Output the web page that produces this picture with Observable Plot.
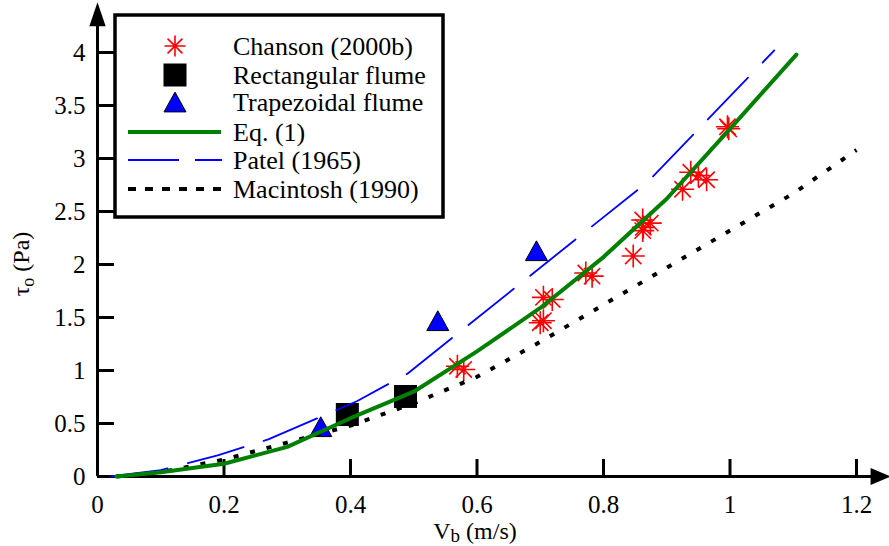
<!DOCTYPE html>
<html>
<head>
<meta charset="utf-8">
<script src="https://cdn.jsdelivr.net/npm/d3@7"></script>
<script src="https://cdn.jsdelivr.net/npm/@observablehq/plot@0.6"></script>
<style>
  html, body { margin: 0; padding: 0; background: #fff; }
  #chart { width: 889px; height: 546px; }
</style>
</head>
<body>
<div id="chart"></div>
<script>
// ---- data ----
const chansonV   = [0.569, 0.579, 0.700, 0.705, 0.705, 0.719, 0.772, 0.782, 0.847, 0.862, 0.874, 0.862, 0.863, 0.925, 0.938, 0.950, 0.963, 0.996, 0.998];
const chansonTau = [1.04, 1.01, 1.45, 1.47, 1.69, 1.67, 1.92, 1.89, 2.08, 2.42, 2.39, 2.32, 2.35, 2.71, 2.87, 2.84, 2.80, 3.30, 3.28];

const rectV   = [0.395, 0.487];
const rectTau = [0.585, 0.755];

const trapV   = [0.353, 0.538, 0.694];
const trapTau = [0.47, 1.47, 2.13];

const eqV   = [0.03, 0.1, 0.2, 0.3, 0.4, 0.5, 0.6, 0.7, 0.8, 0.9, 1.0, 1.105];
const eqTau = [0, 0.04, 0.12, 0.28, 0.55, 0.80, 1.18, 1.59, 2.07, 2.62, 3.28, 3.98];

const patelV   = [0.02, 0.1, 0.19, 0.27, 0.41, 0.49, 0.87, 1.07];
const patelTau = [0, 0.06, 0.20, 0.35, 0.71, 0.97, 2.78, 4.02];

const macV   = [0.03, 0.1, 0.2, 0.3, 0.4, 0.5, 0.6, 0.7, 0.8, 0.9, 1.0, 1.1, 1.2];
const macTau = [0, 0.04, 0.16, 0.32, 0.48, 0.69, 0.94, 1.27, 1.62, 1.97, 2.32, 2.67, 3.08];

const xTicks = [0, 0.2, 0.4, 0.6, 0.8, 1, 1.2];
const xTickLabels = ["0", "0.2", "0.4", "0.6", "0.8", "1", "1.2"];
const yTicks = [0, 0.5, 1, 1.5, 2, 2.5, 3, 3.5, 4];
const yTickLabels = ["0", "0.5", "1", "1.5", "2", "2.5", "3", "3.5", "4"];

const legendLabels = ["Chanson (2000b)", "Rectangular flume", "Trapezoidal flume", "Eq. (1)", "Patel (1965)", "Macintosh (1990)"];

// axis arrow extents (data units beyond the domain)
const X_AXIS_END = 1.228, X_ARROW = 1.238;
const Y_AXIS_END = 4.25,  Y_ARROW = 4.36;

// ---- helpers ----
const zip = (a, b) => a.map((v, i) => ({v, t: b[i]}));
const FONT = "'Liberation Serif', 'Times New Roman', Times, serif";

const starSym = {draw(ctx, size) {
  const r = Math.sqrt(size / Math.PI);
  for (let k = 0; k < 4; k++) {
    const a = k * Math.PI / 4, c = Math.cos(a) * r, s = Math.sin(a) * r;
    ctx.moveTo(c, s); ctx.lineTo(-c, -s);
  }
}};
const squareSym = {draw(ctx, size) {
  const r = Math.sqrt(size / Math.PI);
  ctx.moveTo(-r, -r); ctx.lineTo(r, -r); ctx.lineTo(r, r); ctx.lineTo(-r, r); ctx.closePath();
}};
const triSym = {draw(ctx, size) {
  const r = Math.sqrt(size / Math.PI);
  ctx.moveTo(0, -0.9 * r); ctx.lineTo(r, 0.9 * r); ctx.lineTo(-r, 0.9 * r); ctx.closePath();
}};
const arrowRight = {draw(ctx, size) {
  const r = Math.sqrt(size / Math.PI);
  ctx.moveTo(r, 0); ctx.lineTo(-r, -0.85 * r); ctx.lineTo(-r, 0.85 * r); ctx.closePath();
}};
const arrowUp = {draw(ctx, size) {
  const r = Math.sqrt(size / Math.PI);
  ctx.moveTo(0, -r); ctx.lineTo(0.68 * r, r); ctx.lineTo(-0.68 * r, r); ctx.closePath();
}};

const W = 889, H = 546, ML = 97, MR = 33, MT = 52, MB = 70;
const innerW = W - ML - MR, innerH = H - MT - MB;

const plot = Plot.plot({
  width: W, height: H,
  marginLeft: ML, marginRight: MR, marginTop: MT, marginBottom: MB,
  x: {domain: [0, 1.2]},
  y: {domain: [0, 4]},
  style: {fontFamily: FONT, fontSize: "25px", color: "#000", background: "#fff", overflow: "visible"},
  marks: [
    Plot.axisX({ticks: xTicks, tickFormat: (d, i) => xTickLabels[i], tickSize: 0, tickPadding: 19, label: null, fontSize: 25}),
    Plot.axisY({ticks: yTicks, tickFormat: (d, i) => yTickLabels[i], tickSize: 0, tickPadding: 12, label: null, fontSize: 25}),
    // inward tick marks
    Plot.ruleX(xTicks, {x: d => d, insetTop: innerH - 17, stroke: "#000", strokeWidth: 3}),
    Plot.ruleY(yTicks, {y: d => d, insetRight: innerW - 17, stroke: "#000", strokeWidth: 3}),
    // axis lines with arrows
    Plot.ruleY([0], {x1: 0, x2: X_AXIS_END, stroke: "#000", strokeWidth: 3}),
    Plot.ruleX([0], {y1: 0, y2: Y_AXIS_END, stroke: "#000", strokeWidth: 3}),
    Plot.dot([[X_ARROW, 0]], {x: d => d[0], y: d => d[1], symbol: arrowRight, r: 10, fill: "#000", stroke: "none"}),
    Plot.dot([[0, Y_ARROW]], {x: d => d[0], y: d => d[1], symbol: arrowUp, r: 12, fill: "#000", stroke: "none"}),
    // markers
    Plot.dot(zip(rectV, rectTau), {x: "v", y: "t", symbol: squareSym, r: 11.5, fill: "#000", stroke: "none"}),
    Plot.dot(zip(trapV, trapTau), {x: "v", y: "t", symbol: triSym, r: 11, fill: "#0000ff", stroke: "#000", strokeWidth: 1}),
    Plot.dot(zip(chansonV, chansonTau), {x: "v", y: "t", symbol: starSym, r: 11.5, fill: "none", stroke: "#ff0000", strokeWidth: 1.6}),
    // lines
    Plot.line(zip(macV, macTau), {x: "v", y: "t", stroke: "#000", strokeWidth: 4, strokeDasharray: "5,12", strokeLinecap: "butt"}),
    Plot.line(zip(patelV, patelTau), {x: "v", y: "t", stroke: "#0000ff", strokeWidth: 1.8, strokeDasharray: "58,21"}),
    Plot.line(zip(eqV, eqTau), {x: "v", y: "t", stroke: "#008000", strokeWidth: 4})
  ]
});

const svg = d3.select(plot);

// axis titles with subscripts
const yl = svg.append("text")
  .attr("transform", "translate(29,264) rotate(-90)")
  .attr("text-anchor", "middle")
  .attr("font-family", FONT).attr("font-size", 24).attr("fill", "#000");
yl.append("tspan").text("τ");
yl.append("tspan").attr("font-size", 18).attr("dy", 5).text("o");
yl.append("tspan").attr("dy", -5).text(" (Pa)");

const xl = svg.append("text")
  .attr("x", 475).attr("y", 539)
  .attr("text-anchor", "middle")
  .attr("font-family", FONT).attr("font-size", 24).attr("fill", "#000");
xl.append("tspan").text("V");
xl.append("tspan").attr("font-size", 19).attr("dy", 3).text("b");
xl.append("tspan").attr("dy", -3).text(" (m/s)");

// legend
const lg = svg.append("g").attr("text-anchor", "start");
lg.append("rect").attr("x", 115).attr("y", 15).attr("width", 328).attr("height", 202)
  .attr("fill", "#fff").attr("stroke", "#000").attr("stroke-width", 3.5);
const rowY = [46, 75, 102, 132, 160, 189];
const symX = 175;
lg.append("path").attr("transform", `translate(${symX},${rowY[0]})`)
  .attr("d", d3.symbol(starSym, Math.PI * 10.5 * 10.5)()).attr("fill", "none").attr("stroke", "#ff0000").attr("stroke-width", 1.6);
lg.append("path").attr("transform", `translate(${symX},${rowY[1]})`)
  .attr("d", d3.symbol(squareSym, Math.PI * 11.5 * 11.5)()).attr("fill", "#000");
lg.append("path").attr("transform", `translate(${symX},${rowY[2]})`)
  .attr("d", d3.symbol(triSym, Math.PI * 11 * 11)()).attr("fill", "#0000ff").attr("stroke", "#000").attr("stroke-width", 1);
lg.append("line").attr("x1", 128).attr("x2", 221).attr("y1", rowY[3]).attr("y2", rowY[3])
  .attr("stroke", "#008000").attr("stroke-width", 4);
lg.append("line").attr("x1", 128).attr("x2", 222).attr("y1", rowY[4]).attr("y2", rowY[4])
  .attr("stroke", "#0000ff").attr("stroke-width", 1.8).attr("stroke-dasharray", "51,16");
lg.append("line").attr("x1", 128).attr("x2", 221).attr("y1", rowY[5]).attr("y2", rowY[5])
  .attr("stroke", "#000").attr("stroke-width", 4).attr("stroke-dasharray", "8,9");
legendLabels.forEach((t, i) => {
  lg.append("text").attr("x", 233).attr("y", rowY[i] + 9).attr("text-anchor", "start")
    .attr("font-family", FONT).attr("font-size", 26).attr("fill", "#000").text(t);
});

document.getElementById("chart").appendChild(plot);
</script>
</body>
</html>
